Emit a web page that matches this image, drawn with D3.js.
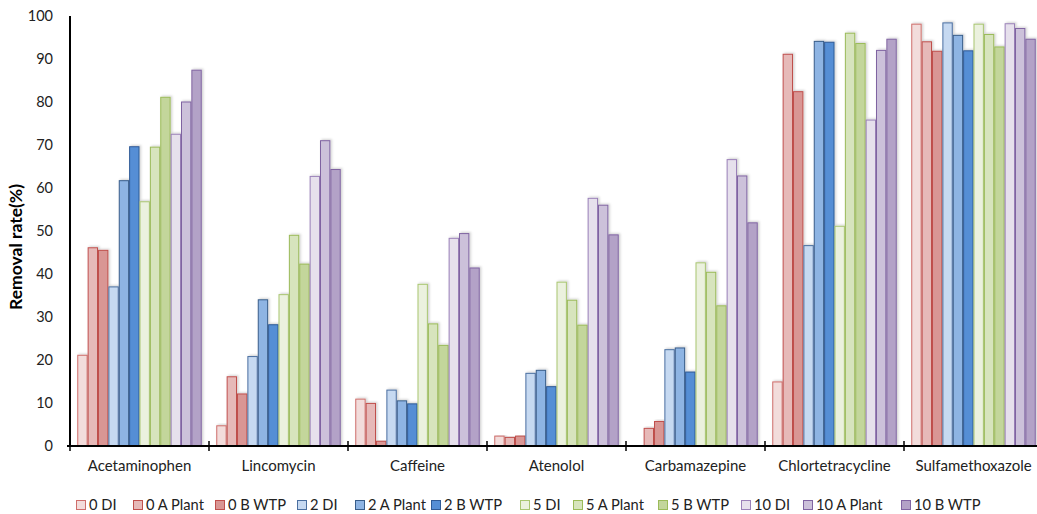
<!DOCTYPE html>
<html><head><meta charset="utf-8">
<script src="https://cdn.jsdelivr.net/npm/d3@7/dist/d3.min.js"></script>
<style>body{margin:0;background:#fff;} svg{display:block;font-family:Lato,"Open Sans",sans-serif;}</style>
</head><body>
<svg id="c" width="1037" height="514"></svg>
<script>
const categories = ["Acetaminophen","Lincomycin","Caffeine","Atenolol","Carbamazepine","Chlortetracycline","Sulfamethoxazole"];
const seriesNames = ["0 DI","0 A Plant","0 B WTP","2 DI","2 A Plant","2 B WTP","5 DI","5 A Plant","5 B WTP","10 DI","10 A Plant","10 B WTP"];
// values per series, one per category
const s0DI    = [21.1, 4.7, 10.9, 2.3, 0,    14.9, 98.1];
const s0A     = [46.1, 16.1, 9.9, 2.0, 4.1,  91.1, 94.0];
const s0B     = [45.5, 12.1, 1.1, 2.3, 5.7,  82.4, 91.8];
const s2DI    = [37.0, 20.8, 13.0, 16.9, 22.4, 46.6, 98.4];
const s2A     = [61.7, 34.0, 10.5, 17.6, 22.8, 94.1, 95.5];
const s2B     = [69.6, 28.2, 9.8, 13.8, 17.2, 93.9, 91.9];
const s5DI    = [56.8, 35.2, 37.6, 38.1, 42.6, 51.1, 98.1];
const s5A     = [69.5, 49.0, 28.4, 33.9, 40.4, 96.0, 95.7];
const s5B     = [81.1, 42.3, 23.4, 28.1, 32.6, 93.6, 92.8];
const s10DI   = [72.5, 62.7, 48.3, 57.6, 66.6, 75.8, 98.2];
const s10A    = [80.0, 71.0, 49.4, 56.0, 62.8, 92.0, 97.1];
const s10B    = [87.4, 64.3, 41.4, 49.1, 51.9, 94.6, 94.6];
const seriesValues = [s0DI,s0A,s0B,s2DI,s2A,s2B,s5DI,s5A,s5B,s10DI,s10A,s10B];
const yTicks = [0,10,20,30,40,50,60,70,80,90,100];

const fills   = ["#F2DCDB","#E6B9B8","#D99694","#C6D9F1","#8EB4E3","#558ED5","#EBF1DE","#D7E4BD","#C3D69B","#E6E0EC","#CCC1DA","#B3A2C7"];
const strokes = ["#CF6E6B","#C0504D","#C0504D","#4A6FA0","#385D8A","#2F5A96","#A9C671","#9BBB59","#9BBB59","#9A80B8","#8064A2","#8064A2"];

const svg = d3.select("#c");
const defs = svg.append("defs");
const f = defs.append("filter").attr("id","sh").attr("x","-50%").attr("y","-10%").attr("width","200%").attr("height","120%");
f.append("feDropShadow").attr("dx",1.5).attr("dy",-1).attr("stdDeviation",0.8)
  .attr("flood-color","#000").attr("flood-opacity",0.18);

const x0 = 70, groupW = 139;
const x = d3.scaleBand().domain(categories).range([x0, x0 + groupW*categories.length]).paddingInner(0).paddingOuter(0);
const xs = d3.scaleBand().domain(seriesNames).range([0, x.bandwidth()]).paddingInner(0).paddingOuter(0.7);
const y = d3.scaleLinear().domain([0,100]).range([446, 16]);

// bars
const g = svg.append("g");
categories.forEach((cat, ci) => {
  const gg = g.append("g").attr("transform", `translate(${x(cat)},0)`);
  seriesNames.forEach((s, si) => {
    const v = seriesValues[si][ci];
    if (v <= 0) return;
    gg.append("rect")
      .attr("x", xs(s)+0.5).attr("width", xs.bandwidth()-1)
      .attr("y", y(v)).attr("height", y(0)-y(v))
      .attr("fill", fills[si]).attr("stroke", strokes[si]).attr("stroke-width", 1)
      .attr("filter","url(#sh)");
  });
});

// y axis
const yAxis = d3.axisLeft(y).tickValues(yTicks).tickSize(0).tickPadding(17);
const ya = svg.append("g").attr("transform", `translate(${x0},0)`).call(yAxis);
ya.select(".domain").attr("stroke","#000").attr("stroke-width",2).attr("d", `M0,${y(100)}V${y(0)}`);
ya.selectAll("text").attr("font-size", 14.5).attr("fill","#222").attr("font-family","Lato");

// x axis
const xa = svg.append("g").attr("transform", `translate(0,${y(0)})`)
  .call(d3.axisBottom(x).tickSize(0).tickPadding(14));
xa.select(".domain").attr("stroke","#000").attr("stroke-width",2).attr("d", `M${x0-3},0H${x0+groupW*categories.length}`);
xa.selectAll("text").attr("font-size", 15).attr("fill","#222").attr("font-family","Lato");
// group boundary ticks
const bounds = d3.range(categories.length+1).map(i => x0 + i*groupW);
xa.selectAll(".bt").data(bounds).enter().append("line")
  .attr("x1", d=>d).attr("x2", d=>d).attr("y1", -5).attr("y2", 5)
  .attr("stroke","#000").attr("stroke-width",1.5);

// y title
svg.append("text").attr("transform", `translate(22,247) rotate(-90)`)
  .attr("text-anchor","middle").attr("font-size",17.5).attr("font-weight","bold").attr("fill","#000")
  .text("Removal rate(%)");

// legend
const legX = [76,133,215,297,355,431,520,573,658,741,803,901];
const lg = svg.append("g");
seriesNames.forEach((s, i) => {
  const it = lg.append("g").attr("transform", `translate(${legX[i]},500)`);
  it.append("rect").attr("x",0.5).attr("y",0.5).attr("width",9).attr("height",9)
    .attr("fill",fills[i]).attr("stroke",strokes[i]).attr("stroke-width",1);
  it.append("text").attr("x",13).attr("y",5).attr("dy","0.35em")
    .attr("font-size",14.7).attr("fill","#222").text(s);
});
</script>
</body></html>
